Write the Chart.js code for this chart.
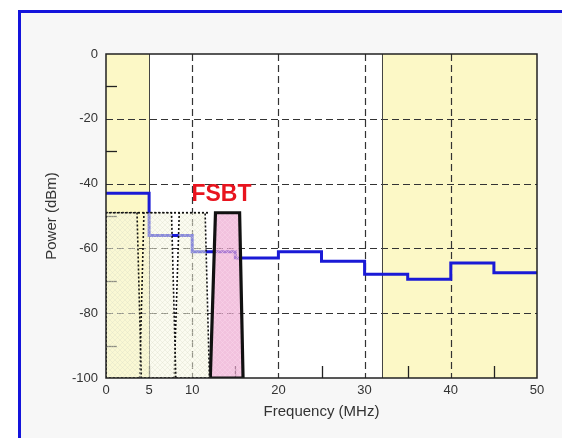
<!DOCTYPE html>
<html>
<head>
<meta charset="utf-8">
<script src="https://cdn.jsdelivr.net/npm/chart.js@4"></script>
<style>
  html, body { margin: 0; padding: 0; background: #fff; }
  canvas { display: block; }
</style>
</head>
<body>
<canvas id="maskChart" width="562" height="438"></canvas>
<script>
// data: spectrum mask steps (MHz / dBm)
const stepFreq = [0, 5, 10, 15, 20, 25, 30, 35, 40, 45, 50];
const stepPower = [-43, -56, -61, -63, -61, -64, -68, -69.5, -64.5, -67.5, -67.5];

// hatched channel shapes
const chan1X = [0, 0, 3.6, 4.1, 0];
const chan1Y = [-100, -49, -49, -100, -100];
const chan2X = [3.9, 4.4, 7.6, 8.1, 3.9];
const chan2Y = [-100, -49, -49, -100, -100];
const chan3X = [7.9, 8.5, 11.5, 12.0, 7.9];
const chan3Y = [-100, -49, -49, -100, -100];
const chanTopX = [0, 12.0];
const chanTopY = [-49, -49];

// FSBT shape
const fsbtX = [12.1, 12.7, 15.5, 15.9, 12.1];
const fsbtY = [-100, -49, -49, -100, -100];
const fsbtLabel = 'FSBT';
const fsbtLabelPos = [13.4, -43.5];

// shaded bands and ticks
const bandStart = [0, 32];
const bandEnd = [5, 50];
const freqTicks = [0, 5, 10, 20, 30, 40, 50];
const freqGrid = [10, 20, 30, 40];
const freqMinor = [5, 15, 25, 35, 45];
const powerMinor = [-10, -30, -50, -70, -90];

const toPts = (xs, ys) => xs.map((x, i) => ({ x: x, y: ys[i] }));

// crosshatch pattern
function hatch(base, line) {
  const c = document.createElement('canvas');
  c.width = c.height = 5;
  const g = c.getContext('2d');
  g.fillStyle = base;
  g.fillRect(0, 0, 5, 5);
  g.strokeStyle = line;
  g.lineWidth = 0.8;
  g.beginPath();
  g.moveTo(0, 0); g.lineTo(5, 5);
  g.moveTo(5, 0); g.lineTo(0, 5);
  g.stroke();
  return g.createPattern(c, 'repeat');
}

const chanFill = hatch('rgba(247,247,226,0.5)', 'rgba(215,218,195,0.4)');
const fsbtFill = hatch('rgba(236,168,208,0.7)', 'rgba(250,215,235,0.6)');

const shapeSet = (xs, ys, fill, dash, width) => ({
  data: toPts(xs, ys),
  showLine: true,
  fill: fill ? 'shape' : false,
  backgroundColor: fill || 'transparent',
  borderColor: '#111',
  borderWidth: width,
  borderDash: dash,
  pointRadius: 0,
  tension: 0,
  order: 1,
});

// frame, plot background, bands, grid and minor ticks
const backdrop = {
  id: 'backdrop',
  beforeDraw(chart) {
    const { ctx, chartArea: a, scales: { x } } = chart;
    ctx.save();
    ctx.fillStyle = '#fff';
    ctx.fillRect(0, 0, chart.width, chart.height);
    ctx.fillStyle = '#f7f7f7';
    ctx.fillRect(19, 10, chart.width, chart.height);
    ctx.fillStyle = '#1414dc';
    ctx.fillRect(18, 10, 3, chart.height);
    ctx.fillRect(18, 10, chart.width, 3);
    ctx.fillStyle = '#fff';
    ctx.fillRect(a.left, a.top, a.right - a.left, a.bottom - a.top);
    ctx.fillStyle = '#fcf8c6';
    bandStart.forEach((s, i) => {
      const x0 = x.getPixelForValue(s), x1 = x.getPixelForValue(bandEnd[i]);
      ctx.fillRect(x0, a.top, x1 - x0, a.bottom - a.top);
    });
    ctx.restore();
  },
  beforeDatasetsDraw(chart) {
    const { ctx, chartArea: a, scales: { x, y } } = chart;
    ctx.save();
    ctx.strokeStyle = '#333';
    ctx.lineWidth = 1.2;
    ctx.setLineDash([7, 4]);
    freqGrid.forEach(v => {
      const px = Math.round(x.getPixelForValue(v)) + 0.5;
      ctx.beginPath(); ctx.moveTo(px, a.top); ctx.lineTo(px, a.bottom); ctx.stroke();
    });
    y.ticks.forEach(t => {
      if (t.value <= -100 || t.value >= 0) return;
      const py = Math.round(y.getPixelForValue(t.value)) + 0.5;
      ctx.beginPath(); ctx.moveTo(a.left, py); ctx.lineTo(a.right, py); ctx.stroke();
    });
    ctx.setLineDash([]);
    ctx.strokeStyle = '#444';
    ctx.lineWidth = 1;
    [bandEnd[0], bandStart[1]].forEach(v => {
      const px = Math.round(x.getPixelForValue(v)) + 0.5;
      ctx.beginPath(); ctx.moveTo(px, a.top); ctx.lineTo(px, a.bottom); ctx.stroke();
    });
    ctx.strokeStyle = '#222';
    ctx.lineWidth = 1.3;
    freqMinor.forEach(v => {
      const px = Math.round(x.getPixelForValue(v)) + 0.5;
      ctx.beginPath(); ctx.moveTo(px, a.bottom); ctx.lineTo(px, a.bottom - 12); ctx.stroke();
    });
    powerMinor.forEach(v => {
      const py = Math.round(y.getPixelForValue(v)) + 0.5;
      ctx.beginPath(); ctx.moveTo(a.left, py); ctx.lineTo(a.left + 11, py); ctx.stroke();
    });
    ctx.restore();
  },
  afterDatasetsDraw(chart) {
    const { ctx, chartArea: a, scales: { x, y } } = chart;
    ctx.save();
    ctx.strokeStyle = '#222';
    ctx.lineWidth = 1.5;
    ctx.strokeRect(a.left, a.top, a.right - a.left, a.bottom - a.top);
    ctx.fillStyle = '#e8141e';
    ctx.font = 'bold 23px "Liberation Sans", Arial, sans-serif';
    ctx.textAlign = 'center';
    ctx.textBaseline = 'middle';
    ctx.fillText(fsbtLabel, x.getPixelForValue(fsbtLabelPos[0]), y.getPixelForValue(fsbtLabelPos[1]));
    ctx.restore();
  }
};

const tickFont = { family: '"Liberation Sans", Arial, sans-serif', size: 13 };
const titleFont = { family: '"Liberation Sans", Arial, sans-serif', size: 15 };

new Chart(document.getElementById('maskChart').getContext('2d'), {
  type: 'scatter',
  data: {
    datasets: [
      shapeSet(chan1X, chan1Y, chanFill, [2, 2], 1.6),
      shapeSet(chan2X, chan2Y, chanFill, [2, 2], 1.6),
      shapeSet(chan3X, chan3Y, chanFill, [2, 2], 1.6),
      shapeSet(chanTopX, chanTopY, null, [2, 2], 1.8),
      shapeSet(fsbtX, fsbtY, fsbtFill, [], 3.2),
      {
        data: toPts(stepFreq, stepPower),
        showLine: true,
        stepped: 'before',
        borderColor: '#1a1ad6',
        borderWidth: 3,
        pointRadius: 0,
        fill: false,
        order: 3,
      },
    ],
  },
  options: {
    responsive: false,
    animation: false,
    layout: { padding: { top: 54, right: 25, left: 0, bottom: 0 } },
    plugins: { legend: { display: false }, tooltip: { enabled: false } },
    scales: {
      x: {
        type: 'linear',
        min: 0,
        max: 50,
        afterBuildTicks: scale => { scale.ticks = freqTicks.map(v => ({ value: v })); },
        afterFit: scale => { scale.height = 60; },
        grid: { display: false, drawTicks: false },
        border: { display: false },
        ticks: { color: '#333', font: tickFont, padding: 5, maxRotation: 0 },
        title: { display: true, text: 'Frequency (MHz)', color: '#333', font: titleFont, padding: { top: 0, bottom: 17 } },
      },
      y: {
        type: 'linear',
        min: -100,
        max: 0,
        afterFit: scale => { scale.width = 106; },
        grid: { display: false, drawTicks: false },
        border: { display: false },
        ticks: { stepSize: 20, color: '#333', font: tickFont, padding: 8 },
        title: { display: true, text: 'Power (dBm)', color: '#333', font: titleFont, padding: { top: 43, bottom: 0 } },
      },
    },
  },
  plugins: [backdrop],
});
</script>
</body>
</html>
